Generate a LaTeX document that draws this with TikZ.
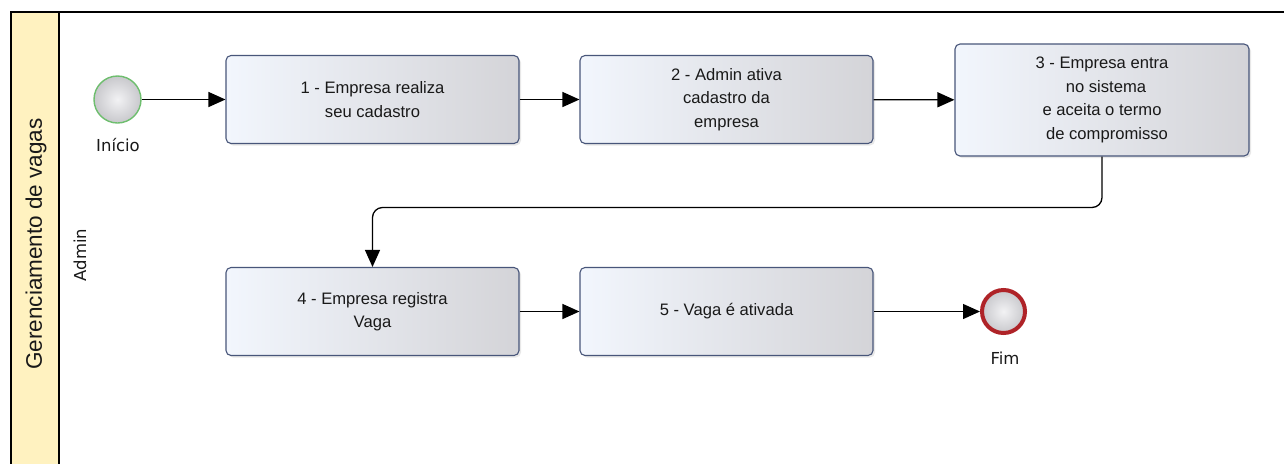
\documentclass[tikz,border=0pt]{standalone}
\usepackage{fontspec}
\setmainfont{Liberation Sans}
\newfontfamily\labelfont{DejaVu Sans}
\usetikzlibrary{arrows.meta,shadows}

\definecolor{lanefill}{RGB}{255,242,192}
\definecolor{boxline}{RGB}{72,86,122}
\definecolor{boxlight}{RGB}{242,246,253}
\definecolor{boxdark}{RGB}{212,212,216}
\definecolor{startline}{RGB}{110,190,110}
\definecolor{endline}{RGB}{175,35,40}
\definecolor{eventlight}{RGB}{242,242,244}
\definecolor{eventdark}{RGB}{200,200,204}
\definecolor{textgray}{RGB}{25,25,25}

\begin{document}
\begin{tikzpicture}[x=1pt,y=-1pt,
  task/.style={draw=boxline, line width=1.1pt, rounded corners=5pt,
    left color=boxlight, right color=boxdark,
    minimum width=293pt, minimum height=88pt, align=center,
    text=textgray, font=\fontsize{16.6}{23.5}\selectfont,
    drop shadow={shadow xshift=2pt, shadow yshift=-2pt, opacity=0.18}},
  startev/.style={circle, draw=startline, line width=1.4pt,
    inner color=eventlight, outer color=eventdark, minimum size=47pt, inner sep=0pt},
  endev/.style={circle, draw=endline, line width=4pt,
    inner color=eventlight, outer color=eventdark, minimum size=43pt, inner sep=0pt},
  evlabel/.style={text=textgray, font=\labelfont\fontsize{16.5}{19}\selectfont},
  flow/.style={draw=black, line width=1.3pt, -{Triangle[length=17pt,width=15pt]}},
  frame/.style={draw=black, line width=1.4pt}]

\useasboundingbox (0,0) rectangle (1284,464);

% pool and lane header
\fill[lanefill] (11,12) rectangle (59,464);
\draw[frame] (1284,12) -- (11,12) -- (11,464);
\draw[frame] (59,12) -- (59,464);
\node[rotate=90, font=\fontsize{22.5}{26}\selectfont, text=textgray] (pool) at (36,244) {Gerenciamento de vagas};
\node[rotate=90, text=textgray, font=\labelfont\fontsize{16.5}{19}\selectfont] (lane) at (80,255) {Admin};

% events
\node[startev] (start) at (117.5,99.5) {};
\node[evlabel] (startlbl) at (118,145) {Início};
\node[endev] (end) at (1003.5,311.5) {};
\node[evlabel] (endlbl) at (1005,358) {Fim};

% tasks
\node[task] (t1) at (372.5,99.5) {1 - Empresa realiza\\seu cadastro};
\node[task] (t2) at (726.5,99.5) {2 - Admin ativa\\cadastro da\\empresa};
\node[task, minimum width=294pt, minimum height=112pt] (t3) at (1102,100) {3 - Empresa entra\\\hspace*{8pt}no sistema\\e aceita o termo\hspace*{2pt}\\\hspace*{10pt}de compromisso};
\node[task] (t4) at (372.5,311.5) {4 - Empresa registra\\Vaga};
\node[task] (t5) at (726.5,311.5) {5 - Vaga é ativada};

% sequence flows
\coordinate (turn) at (1102,207.5);
\draw[flow] (start) -- (t1);
\draw[flow] (t1) -- (t2);
\draw[flow] (t2) -- (t3);
\draw[flow, rounded corners=10pt] (t3.south) -- (turn) -| (t4.north);
\draw[flow] (t4) -- (t5);
\draw[flow] (t5) -- (end);
\end{tikzpicture}
\end{document}
